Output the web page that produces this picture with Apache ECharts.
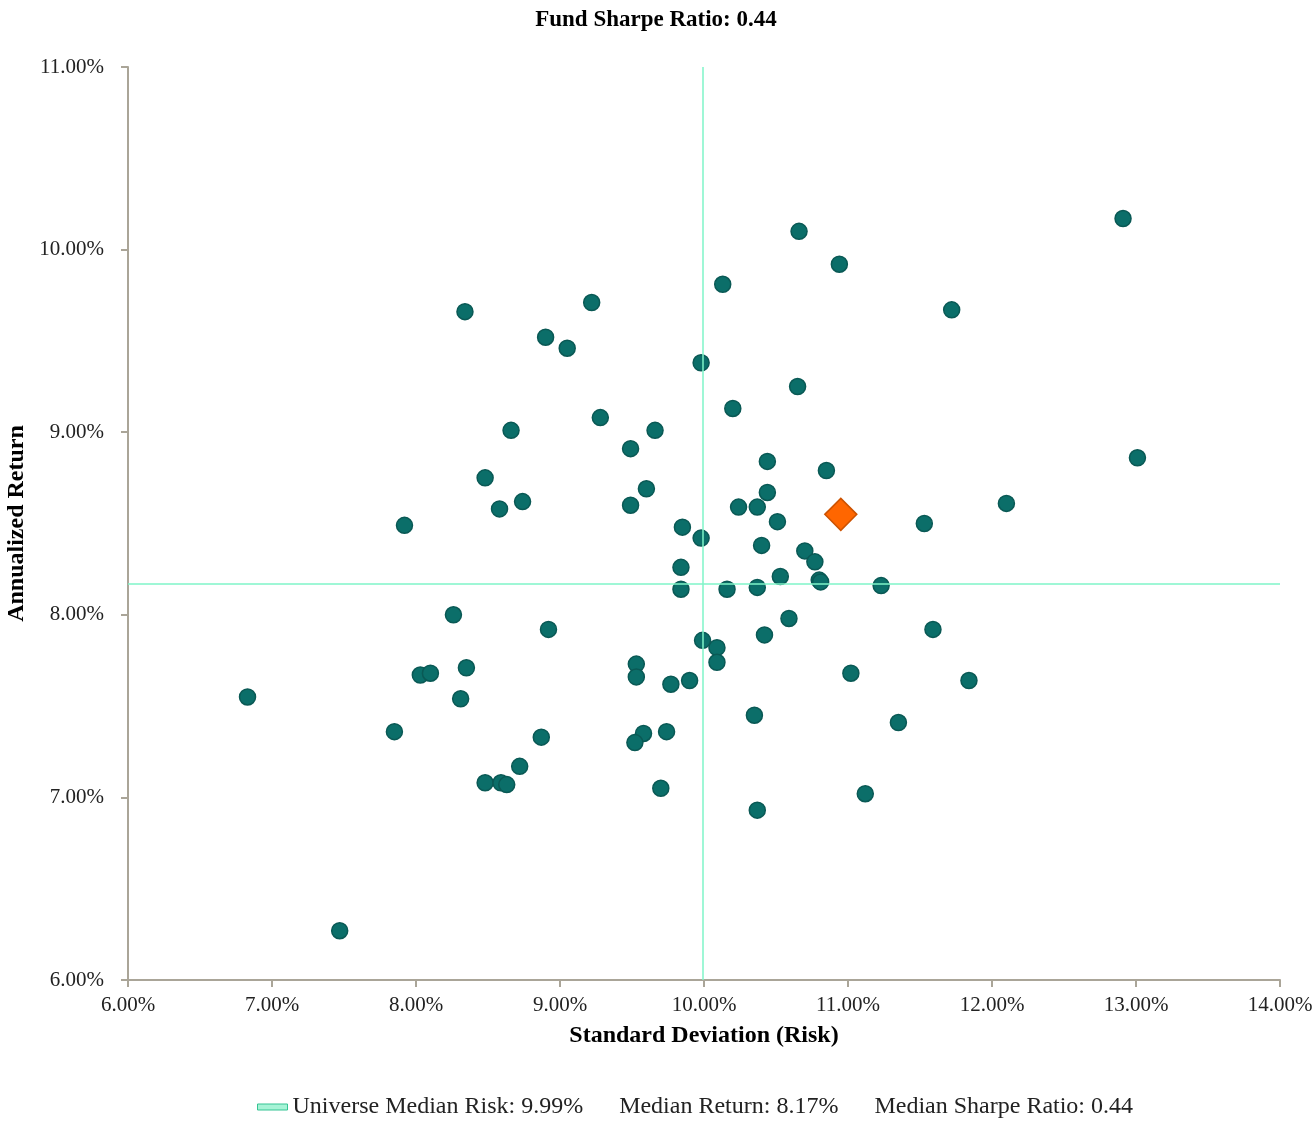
<!DOCTYPE html>
<html>
<head>
<meta charset="utf-8">
<script src="https://cdn.jsdelivr.net/npm/echarts@6/dist/echarts.min.js"></script>
<style>
  html, body { margin: 0; padding: 0; background: #fff; }
  #main { width: 1312px; height: 1122px; }
</style>
</head>
<body>
<div id="main"></div>
<script>
// universe funds: [std dev %, annualized return %]
const universeRisk = [12.91, 10.66, 10.94, 10.13, 11.72, 8.34, 9.22, 8.90, 9.05, 9.98,
  10.65, 10.20, 9.28, 9.66, 8.66, 9.49, 10.44, 13.01, 10.85, 8.48,
  9.60, 10.44, 8.74, 12.10, 8.58, 9.49, 10.24, 10.37, 10.51, 11.53,
  7.92, 9.85, 9.98, 10.40, 10.70, 10.77, 9.84, 10.53, 10.80, 10.81,
  11.23, 9.84, 10.16, 10.37, 8.26, 10.59, 11.59, 8.92, 10.42, 9.99,
  10.09, 8.35, 9.53, 10.09, 8.03, 8.10, 9.53, 11.02, 9.90, 9.77,
  11.84, 6.83, 8.31, 10.35, 11.35, 7.85, 9.58, 9.74, 8.87, 9.52,
  8.72, 8.48, 8.59, 8.63, 9.70, 11.12, 10.37, 7.47];
const universeReturn = [10.17, 10.10, 9.92, 9.81, 9.67, 9.66, 9.71, 9.52, 9.46, 9.38,
  9.25, 9.13, 9.08, 9.01, 9.01, 8.91, 8.84, 8.86, 8.79, 8.75,
  8.69, 8.67, 8.62, 8.61, 8.58, 8.60, 8.59, 8.59, 8.51, 8.50,
  8.49, 8.48, 8.42, 8.38, 8.35, 8.29, 8.26, 8.21, 8.19, 8.18,
  8.16, 8.14, 8.14, 8.15, 8.00, 7.98, 7.92, 7.92, 7.89, 7.86,
  7.82, 7.71, 7.73, 7.74, 7.67, 7.68, 7.66, 7.68, 7.64, 7.62,
  7.64, 7.55, 7.54, 7.45, 7.41, 7.36, 7.35, 7.36, 7.33, 7.30,
  7.17, 7.08, 7.08, 7.07, 7.05, 7.02, 6.93, 6.27];
const fundPoint = [10.95, 8.55];
const medianRisk = 9.99;
const medianReturn = 8.17;
const medianSharpe = 0.44;
const fundSharpe = 0.44;

const font = '"Liberation Serif", "Times New Roman", serif';
const axisColor = '#aaa598';

const universeData = universeRisk.map((r, i) => [r, universeReturn[i]]);
const pct = v => v.toFixed(2) + '%';

const chart = echarts.init(document.getElementById('main'));
chart.setOption({
  animation: false,
  textStyle: { fontFamily: font },
  title: {
    text: 'Fund Sharpe Ratio: ' + fundSharpe.toFixed(2),
    left: 'center',
    top: 4,
    textStyle: { fontFamily: font, fontSize: 23, fontWeight: 'bold', color: '#000' }
  },
  legend: {
    bottom: -2,
    left: 252,
    itemWidth: 30,
    itemHeight: 6,
    itemGap: 13,
    textStyle: { fontFamily: font, fontSize: 24, color: '#222' },
    data: [
      {
        name: 'Universe Median Risk: ' + pct(medianRisk),
        icon: 'rect',
        itemStyle: { color: '#a6f3d6', borderColor: '#35c493', borderWidth: 1, opacity: 1 }
      },
      { name: 'Median Return: ' + pct(medianReturn) },
      { name: 'Median Sharpe Ratio: ' + medianSharpe.toFixed(2) }
    ]
  },
  grid: { left: 128, right: 32, top: 67, bottom: 142, outerBoundsMode: 'none', containLabel: false },
  xAxis: {
    type: 'value',
    min: 6, max: 14, interval: 1,
    name: 'Standard Deviation (Risk)',
    nameLocation: 'middle',
    nameGap: 44,
    nameTextStyle: { fontFamily: font, fontSize: 24, fontWeight: 'bold', color: '#000' },
    axisLine: { show: true, onZero: false, lineStyle: { color: axisColor, width: 2 } },
    axisTick: { show: true, length: 7, lineStyle: { color: axisColor, width: 2 } },
    axisLabel: { fontFamily: font, fontSize: 21, color: '#222', margin: 15, formatter: pct },
    splitLine: { show: false }
  },
  yAxis: {
    type: 'value',
    min: 6, max: 11, interval: 1,
    name: 'Annualized Return',
    nameLocation: 'middle',
    nameGap: 93,
    nameRotate: 90,
    nameTextStyle: { fontFamily: font, fontSize: 24, fontWeight: 'bold', color: '#000' },
    axisLine: { show: true, onZero: false, lineStyle: { color: axisColor, width: 2 } },
    axisTick: { show: true, length: 7, lineStyle: { color: axisColor, width: 2 } },
    axisLabel: { fontFamily: font, fontSize: 21, color: '#222', margin: 24, formatter: pct },
    splitLine: { show: false }
  },
  series: [
    {
      name: 'Universe Median Risk: ' + pct(medianRisk),
      type: 'scatter',
      data: universeData,
      symbol: 'circle',
      symbolSize: 16,
      itemStyle: { color: '#0b6e69', borderColor: '#0a5955', borderWidth: 1.5, opacity: 1 },
      markLine: {
        silent: true,
        symbol: 'none',
        label: { show: false },
        lineStyle: { color: '#7ff5c8', width: 1.5, type: 'solid', opacity: 1 },
        data: [{ xAxis: medianRisk }, { yAxis: medianReturn }]
      }
    },
    {
      name: 'Fund',
      type: 'scatter',
      data: [fundPoint],
      symbol: 'diamond',
      symbolSize: [32, 32],
      z: 5,
      itemStyle: { color: '#ff6600', borderColor: '#cc5200', borderWidth: 1.5, opacity: 1 }
    },
    {
      name: 'Median Return: ' + pct(medianReturn),
      type: 'scatter',
      data: [],
      itemStyle: { color: 'transparent' }
    },
    {
      name: 'Median Sharpe Ratio: ' + medianSharpe.toFixed(2),
      type: 'scatter',
      data: [],
      itemStyle: { color: 'transparent' }
    }
  ]
});
</script>
</body>
</html>
